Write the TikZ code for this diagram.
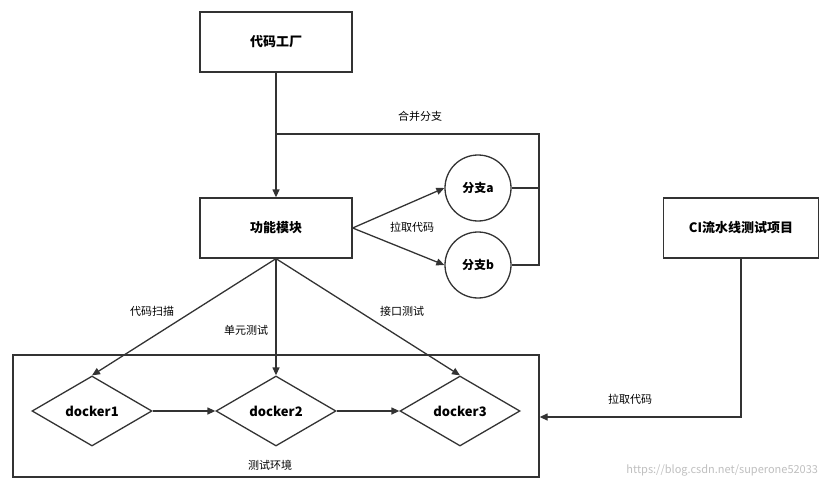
\documentclass[tikz,border=0pt]{standalone}
\usepackage{fontspec}
\setmainfont{Noto Sans CJK SC}
\usetikzlibrary{shapes.geometric,arrows.meta}
\begin{document}
\begin{tikzpicture}[x=1pt,y=-1pt,
  line width=1.3pt, draw={rgb,255:red,51;green,51;blue,51},
  box/.style={draw,rectangle,minimum width=152pt,minimum height=60pt,font=\bfseries\fontsize{13}{15}\selectfont},
  circ/.style={draw,circle,minimum size=66pt,inner sep=0pt,font=\bfseries\fontsize{12}{14}\selectfont},
  dia/.style={draw,diamond,minimum width=120pt,minimum height=70pt,inner sep=0pt,font=\bfseries\fontsize{13}{15}\selectfont},
  lab/.style={font=\fontsize{11}{13}\selectfont,inner sep=1pt},
  arr/.style={-{Triangle[length=8pt,width=7pt]}}]
\useasboundingbox (0,0) rectangle (830,492);
\node[box] (f) at (276,42) {代码工厂};
\node[box] (m) at (276,228) {功能模块};
\node[box,minimum width=155pt] (ci) at (741,228) {CI流水线测试项目};
\node[circ] (a) at (478,188) {分支a};
\node[circ] (b) at (478,265) {分支b};
\node[draw,rectangle,minimum width=526pt,minimum height=122pt,inner sep=0pt] (env) at (276,416) {};
\node[lab] (envl) at (270,465) {测试环境};
\node[dia] (d1) at (92,411) {docker1};
\node[dia] (d2) at (276,411) {docker2};
\node[dia] (d3) at (460,411) {docker3};
\coordinate (j) at (539,134);
\coordinate (jm) at (276,134);
\coordinate (c1) at (741,417);
\draw[arr] (f) -- (m);
\draw (a.east) -- (539,188) (b.east) -- (539,265) -- (j) -- (jm);
\node[lab] at (420,116) {合并分支};
\draw[arr] (m.east) -- (a.west);
\draw[arr] (m.east) -- (b.west);
\node[lab,fill=white] at (412,227) {拉取代码};
\draw[arr] (ci.south) -- (c1) -- (env.east |- c1);
\node[lab] at (630,399) {拉取代码};
\draw[arr] (m.south) -- (d1.north);
\draw[arr] (m.south) -- (d2.north);
\draw[arr] (m.south) -- (d3.north);
\node[lab] at (152,311) {代码扫描};
\node[lab] at (246,330) {单元测试};
\node[lab] at (402,311) {接口测试};
\draw[arr] (d1) -- (d2);
\draw[arr] (d2) -- (d3);
\node[font=\fontsize{11}{13}\selectfont,text=black!25,anchor=east] at (822,470) {https://blog.csdn.net/superone52033};
\end{tikzpicture}
\end{document}
